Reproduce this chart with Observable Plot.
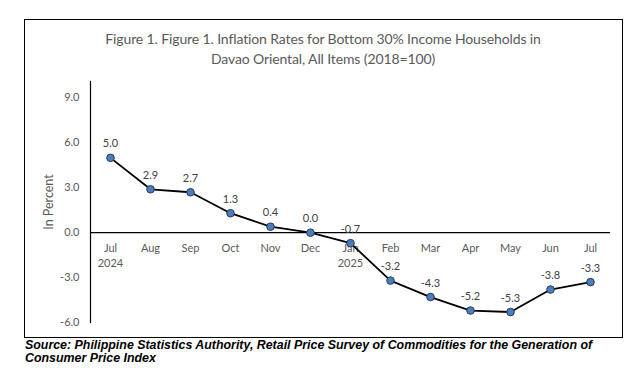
<!DOCTYPE html>
<html>
<head>
<meta charset="utf-8">
<script src="https://cdn.jsdelivr.net/npm/d3@7"></script>
<script src="https://cdn.jsdelivr.net/npm/@observablehq/plot@0.6"></script>
<style>
  html, body { margin: 0; padding: 0; background: #fff; }
  #wrap { position: relative; width: 640px; height: 373px; overflow: hidden; background: #fff; }
  #frame { position: absolute; left: 24px; top: 19px; width: 597px; height: 317px; border: 1px solid #000; box-sizing: content-box; }
  #title { position: absolute; left: 24px; top: 29px; width: 598px; text-align: center; font-family: Lato, sans-serif; font-size: 14px; letter-spacing: -0.12px; line-height: 20px; color: #595959; }
  #chart { position: absolute; left: 0; top: 0; }
  #source { position: absolute; left: 25px; top: 339px; width: 615px; font-family: "Liberation Sans", Arial, sans-serif; font-weight: bold; font-style: italic; font-size: 12.4px; line-height: 13px; color: #000; white-space: nowrap; }
</style>
</head>
<body>
<div id="wrap">
  <div id="frame"></div>
  <div id="title">Figure 1. Figure 1. Inflation Rates for Bottom 30% Income Households in<br>Davao Oriental, All Items (2018=100)</div>
  <div id="chart"></div>
  <div id="source">Source: Philippine Statistics Authority, Retail Price Survey of Commodities for the Generation of<br>Consumer Price Index</div>
</div>
<script>
const months = ["Jul\n2024", "Aug", "Sep", "Oct", "Nov", "Dec", "Jan\n2025", "Feb", "Mar", "Apr", "May", "Jun", "Jul"];
const rates = [5.0, 2.9, 2.7, 1.3, 0.4, 0.0, -0.7, -3.2, -4.3, -5.2, -5.3, -3.8, -3.3];
const yTicks = [-6, -3, 0, 3, 6, 9];

const data = months.map((m, i) => ({ i, month: m, value: rates[i] }));
const fmt = v => v.toFixed(1);

const chart = Plot.plot({
  width: 640,
  height: 340,
  marginLeft: 90,
  marginRight: 30,
  marginTop: 81,
  marginBottom: 18,
  style: { fontFamily: "Lato, sans-serif", fontSize: "11px", color: "#595959", background: "transparent" },
  x: { type: "point", domain: d3.range(months.length), padding: 0.5, axis: null },
  y: { domain: [-6, 10.1] },
  marks: [
    Plot.axisY({ ticks: yTicks, tickFormat: fmt, tickSize: 0, tickPadding: 11, label: null, fill: "#595959", fontSize: 11 }),
    Plot.text(["In Percent"], { frameAnchor: "left", textAnchor: "middle", rotate: -90, dx: -42, fontSize: 12.5, fill: "#595959" }),
    Plot.frame({ anchor: "left", stroke: "#000", strokeWidth: 1.2 }),
    Plot.ruleY([0], { stroke: "#000", strokeWidth: 1.2 }),
    Plot.text(data, { x: "i", y: () => 0, text: "month", dy: 9, lineAnchor: "top", lineHeight: 1.36, fill: "#595959", fontSize: 11 }),
    Plot.line(data, { x: "i", y: "value", stroke: "#000", strokeWidth: 1.8 }),
    Plot.dot(data, { x: "i", y: "value", r: 3.8, fill: "#4F7DB8", stroke: "#1F3A5F", strokeWidth: 1 }),
    Plot.text(data, { x: "i", y: "value", text: d => fmt(d.value), dy: -14, fill: "#404040", fontSize: 11 })
  ]
});
document.getElementById("chart").appendChild(chart);
</script>
</body>
</html>
